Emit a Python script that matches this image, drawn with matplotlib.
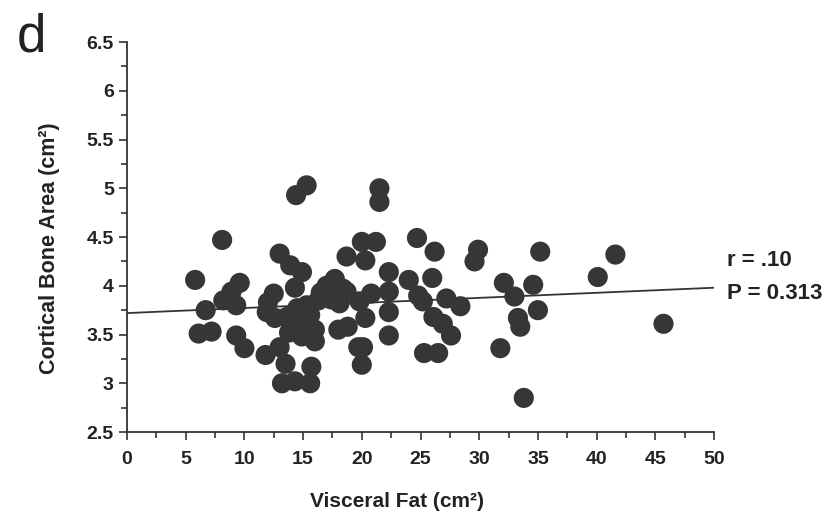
import matplotlib.pyplot as plt
from matplotlib import ticker

# visceral fat (cm2) vs cortical bone area (cm2)
visceral_fat = [5.8, 6.1, 6.7, 7.2, 8.1, 8.2, 8.9, 9.6, 9.3, 9.3, 10.0,
                11.8, 11.9, 12.0, 12.5, 12.6, 13.0, 13.9, 14.9, 14.3, 14.5,
                14.0, 15.2, 16.0, 14.9, 16.0, 13.0, 13.5, 15.7, 13.2, 14.3,
                15.6, 14.4, 15.3, 13.6, 13.8, 14.7, 15.6, 15.3,
                16.5, 17.0, 17.7, 18.4, 17.4, 16.3, 18.0, 18.8, 18.7, 20.0,
                21.2, 20.3, 21.5, 21.5, 24.7, 26.2, 22.3, 24.0, 26.0, 18.7,
                20.8, 22.3, 24.8, 25.2, 27.2, 28.4, 19.8, 18.1, 20.3, 22.3,
                26.1, 26.9, 27.6, 22.3, 20.1, 20.0, 25.3, 26.5, 19.7,
                29.9, 29.6, 35.2, 41.6, 40.1, 32.1, 33.0, 34.6, 33.3, 33.5,
                35.0, 31.8, 33.8, 45.7]
cortical_area = [4.06, 3.51, 3.75, 3.53, 4.47, 3.85, 3.94, 4.03, 3.80, 3.49, 3.36,
                 3.29, 3.73, 3.83, 3.92, 3.67, 4.33, 4.21, 4.14, 3.98, 3.77,
                 3.61, 3.65, 3.55, 3.48, 3.43, 3.37, 3.20, 3.17, 3.00, 3.02,
                 3.00, 4.93, 5.03, 3.68, 3.52, 3.72, 3.70, 3.80,
                 3.93, 4.00, 4.07, 3.97, 3.86, 3.85, 3.55, 3.58, 4.30, 4.45,
                 4.45, 4.26, 5.00, 4.86, 4.49, 4.35, 4.14, 4.06, 4.08, 3.94,
                 3.92, 3.94, 3.90, 3.84, 3.87, 3.79, 3.84, 3.82, 3.67, 3.73,
                 3.68, 3.61, 3.49, 3.49, 3.37, 3.19, 3.31, 3.31, 3.37,
                 4.37, 4.25, 4.35, 4.32, 4.09, 4.03, 3.89, 4.01, 3.67, 3.58,
                 3.75, 3.36, 2.85, 3.61]

# regression line end points
fit_x = [0, 50]
fit_y = [3.72, 3.98]

plt.rcParams['font.family'] = ['Liberation Sans Narrow', 'Liberation Sans', 'DejaVu Sans']
txt = '#222222'

fig = plt.figure(figsize=(8.38, 5.14), dpi=100)
ax = fig.add_axes([0.1516, 0.1595, 0.7004, 0.7587])

ax.scatter(visceral_fat, cortical_area, s=210, color='#363636', edgecolors='none', zorder=3)
ax.plot(fit_x, fit_y, color='#333333', lw=1.3, zorder=2)

ax.set_xlim(0, 50)
ax.set_ylim(2.5, 6.5)
for side in ['top', 'right']:
    ax.spines[side].set_visible(False)
for side in ['left', 'bottom']:
    ax.spines[side].set_color('#333333')
    ax.spines[side].set_linewidth(1.3)

ax.xaxis.set_major_locator(ticker.MultipleLocator(5))
ax.xaxis.set_minor_locator(ticker.MultipleLocator(2.5))
ax.yaxis.set_major_locator(ticker.MultipleLocator(0.5))
ax.yaxis.set_minor_locator(ticker.MultipleLocator(0.25))
ax.yaxis.set_major_formatter(ticker.FuncFormatter(lambda v, p: f'{v:g}'))
ax.tick_params(which='both', direction='out', color='#333333', width=1.2,
               labelsize=14, labelcolor=txt)
ax.tick_params(which='major', length=6)
ax.tick_params(which='minor', length=4)
ax.tick_params(axis='x', pad=8)
for lab in ax.get_xticklabels() + ax.get_yticklabels():
    lab.set_fontweight('bold')

# axis titles sit a little off-centre in the original
ax.set_xlabel('Visceral Fat (cm²)', fontsize=15, color=txt, fontweight='bold')
ax.xaxis.set_label_coords(0.46, -0.155)
ax.set_ylabel('Cortical Bone Area (cm²)', fontsize=15.5, color=txt, fontweight='bold')
ax.yaxis.set_label_coords(-0.115, 0.472)

ax.text(1.022, 0.441, 'r = .10', transform=ax.transAxes, fontsize=16, color=txt,
        va='center', ha='left', fontweight='bold')
ax.text(1.022, 0.356, 'P = 0.313', transform=ax.transAxes, fontsize=16, color=txt,
        va='center', ha='left', fontweight='bold')

fig.text(0.02, 0.975, 'd', fontsize=38, color='#222222', va='top', ha='left')

fig.savefig('out.png', dpi=100)
